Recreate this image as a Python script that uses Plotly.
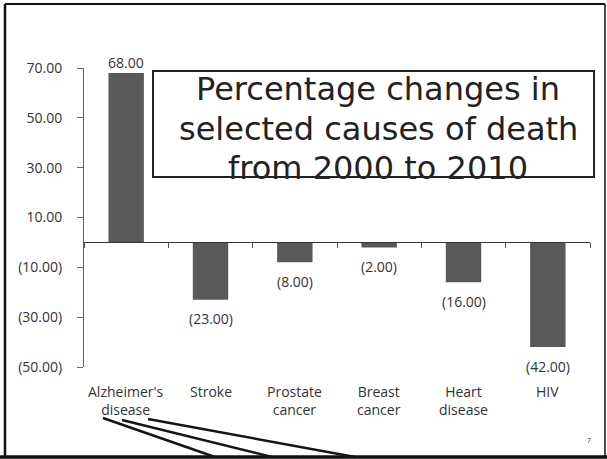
import plotly.graph_objects as go

categories = ["Alzheimer's<br>disease", "Stroke", "Prostate<br>cancer", "Breast<br>cancer", "Heart<br>disease", "HIV"]
values = [68.0, -23.0, -8.0, -2.0, -16.0, -42.0]
y_ticks = [-50, -30, -10, 10, 30, 50, 70]
title_lines = ["Percentage changes in", "selected causes of death", "from 2000 to 2010"]


def acct(v):
    return f"({abs(v):.2f})" if v < 0 else f"{v:.2f}"


W, H = 607, 459
def px(x):
    return x / W
def py(y):
    return 1 - y / H

FONT = "Open Sans"
TXT = "#333333"

fig = go.Figure()
fig.add_trace(go.Bar(
    x=categories, y=values, width=0.42,
    marker=dict(color="#595959", line=dict(width=0)),
    cliponaxis=False, showlegend=False,
))

# data labels (accounting format) placed at each bar's end
for c, v in zip(categories, values):
    fig.add_annotation(x=c, y=v, xref="x", yref="y", text=acct(v), showarrow=False,
                       yanchor="middle", yshift=(10 if v >= 0 else -19),
                       font=dict(family=FONT, size=14, color=TXT))

# category labels at the bottom of the chart
for c in categories:
    fig.add_annotation(x=c, xref="x", y=py(380), yref="paper", yanchor="top",
                       text=c, showarrow=False,
                       font=dict(family=FONT, size=14, color=TXT))

# title box and text
fig.add_shape(type="rect", xref="paper", yref="paper",
              x0=px(153), x1=px(594), y0=py(177), y1=py(71),
              line=dict(color="#222222", width=2), fillcolor="rgba(0,0,0,0)", layer="below")
for i, t in enumerate(title_lines):
    fig.add_annotation(x=px(378), xref="paper", y=py(89 + 39.5 * i), yref="paper",
                       yanchor="middle", xanchor="center", text=t, showarrow=False,
                       font=dict(family="DejaVu Sans", size=32, color="#222222"))

# page border (scan)
for x0, y0, x1, y1, w in [(5, 4, 5, 457, 2.5), (5, 4, 605, 4, 2), (605, 4, 605, 457, 1.5), (0, 457, 607, 457, 3.5)]:
    fig.add_shape(type="line", xref="paper", yref="paper",
                  x0=px(x0), y0=py(y0), x1=px(x1), y1=py(y1),
                  line=dict(color="#111111", width=w))

# hand-drawn strokes under the first label
for x0, y0, x1, y1 in [(103, 418, 215, 457), (122, 420, 272, 457), (148, 419, 355, 457)]:
    fig.add_shape(type="line", xref="paper", yref="paper",
                  x0=px(x0), y0=py(y0), x1=px(x1), y1=py(y1),
                  line=dict(color="#151515", width=2.5))

fig.add_annotation(x=px(593), y=py(447), xref="paper", yref="paper", text="7",
                   showarrow=False, font=dict(family=FONT, size=7, color="#333"))

fig.update_layout(
    width=W, height=H, margin=dict(l=0, r=0, t=0, b=0, pad=0, autoexpand=False),
    paper_bgcolor="white", plot_bgcolor="rgba(0,0,0,0)",
    font=dict(family=FONT, color=TXT),
    xaxis=dict(domain=[px(84), px(590)], range=[-0.5, 5.5], type="category",
               anchor="free", position=py(242), showline=True, linecolor="#333333",
               linewidth=1.2, ticks="outside", tickson="boundaries", ticklen=5,
               tickcolor="#555555", showticklabels=False, showgrid=False, zeroline=False),
    yaxis=dict(domain=[py(367), py(68)], range=[-50, 70], tickvals=y_ticks,
               ticktext=[acct(v) for v in y_ticks],
               showline=True, linecolor="#666666", linewidth=1,
               ticks="outside", ticklen=6, tickcolor="#666666", showgrid=False,
               ticklabelstandoff=12,
               zeroline=False, tickfont=dict(family=FONT, size=14, color=TXT)),
)

fig.write_html("out.html")
